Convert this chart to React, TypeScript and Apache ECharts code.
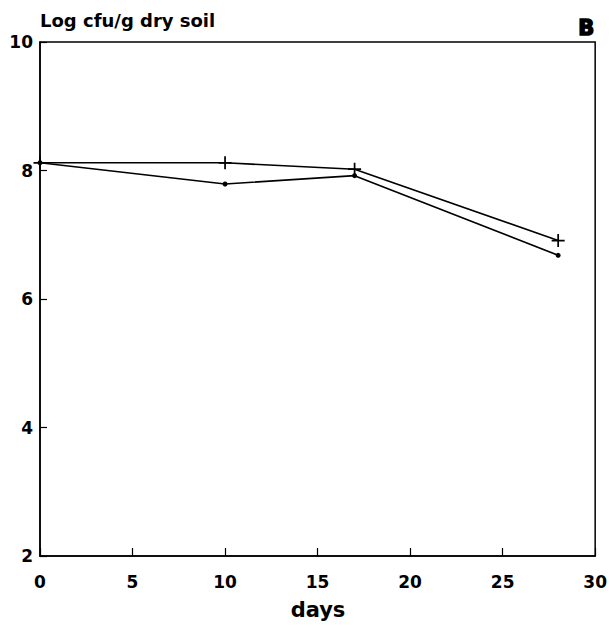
import React, { useEffect, useRef } from "react";
import * as echarts from "echarts";

const days = [0, 10, 17, 28];
const plusSeries = [8.12, 8.12, 8.02, 6.91];
const dotSeries = [8.12, 7.79, 7.92, 6.68];
const xTicks = [0, 5, 10, 15, 20, 25, 30];
const yTicks = [2, 4, 6, 8, 10];

const FONT = "DejaVu Sans";
const PLUS =
  "path://M5.2,0 H6.8 V5.2 H12 V6.8 H6.8 V12 H5.2 V6.8 H0 V5.2 H5.2 Z";

export default function App() {
  const ref = useRef<HTMLDivElement>(null);
  useEffect(() => {
    document.body.style.margin = "0";
    if (!ref.current) return;
    const chart = echarts.init(ref.current, undefined, { renderer: "svg" });
    chart.setOption({
      animation: false,
      backgroundColor: "#fff",
      grid: {
        left: 40,
        right: 13,
        top: 42,
        bottom: 71,
        show: true,
        borderColor: "#000",
        borderWidth: 1.5,
      },
      xAxis: {
        type: "value",
        min: xTicks[0],
        max: xTicks[xTicks.length - 1],
        interval: 5,
        axisLine: { show: true, lineStyle: { color: "#000", width: 1.5 } },
        axisTick: { show: true, inside: true, length: 8, lineStyle: { color: "#000", width: 1.2 } },
        axisLabel: {
          margin: 17,
          color: "#000",
          fontFamily: FONT,
          fontWeight: "bold",
          fontSize: 17,
          showMinLabel: true,
          showMaxLabel: true,
        },
        splitLine: { show: false },
      },
      yAxis: {
        type: "value",
        min: yTicks[0],
        max: yTicks[yTicks.length - 1],
        interval: 2,
        axisLine: { show: true, lineStyle: { color: "#000", width: 1.5 } },
        axisTick: { show: true, inside: true, length: 7, lineStyle: { color: "#000", width: 1.2 } },
        axisLabel: {
          margin: 7,
          color: "#000",
          fontFamily: FONT,
          fontWeight: "bold",
          fontSize: 17,
        },
        splitLine: { show: false },
      },
      series: [
        {
          type: "line",
          data: days.map((d, i) => [d, plusSeries[i]]),
          symbol: PLUS,
          symbolSize: 13,
          itemStyle: { color: "#000" },
          lineStyle: { color: "#000", width: 1.6 },
        },
        {
          type: "line",
          data: days.map((d, i) => [d, dotSeries[i]]),
          symbol: "circle",
          symbolSize: 5,
          itemStyle: { color: "#000" },
          lineStyle: { color: "#000", width: 1.6 },
        },
      ],
      graphic: [
        {
          type: "text",
          left: 40,
          top: 11,
          style: {
            text: "Log cfu/g dry soil",
            fontFamily: FONT,
            fontWeight: "bold",
            fontSize: 18,
            fill: "#000",
          },
        },
        {
          type: "text",
          right: 15,
          top: 17,
          style: {
            text: "B",
            fontFamily: FONT,
            fontWeight: 900,
            fontSize: 21,
            fill: "#000",
            stroke: "#000",
            lineWidth: 1.5,
          },
        },
        {
          type: "text",
          x: 318,
          y: 610,
          style: {
            text: "days",
            fontFamily: FONT,
            fontWeight: "bold",
            fontSize: 21,
            fill: "#000",
            align: "center",
            verticalAlign: "middle",
          },
        },
      ],
    });
    return () => chart.dispose();
  }, []);
  return <div ref={ref} style={{ width: 610, height: 627 }} />;
}
